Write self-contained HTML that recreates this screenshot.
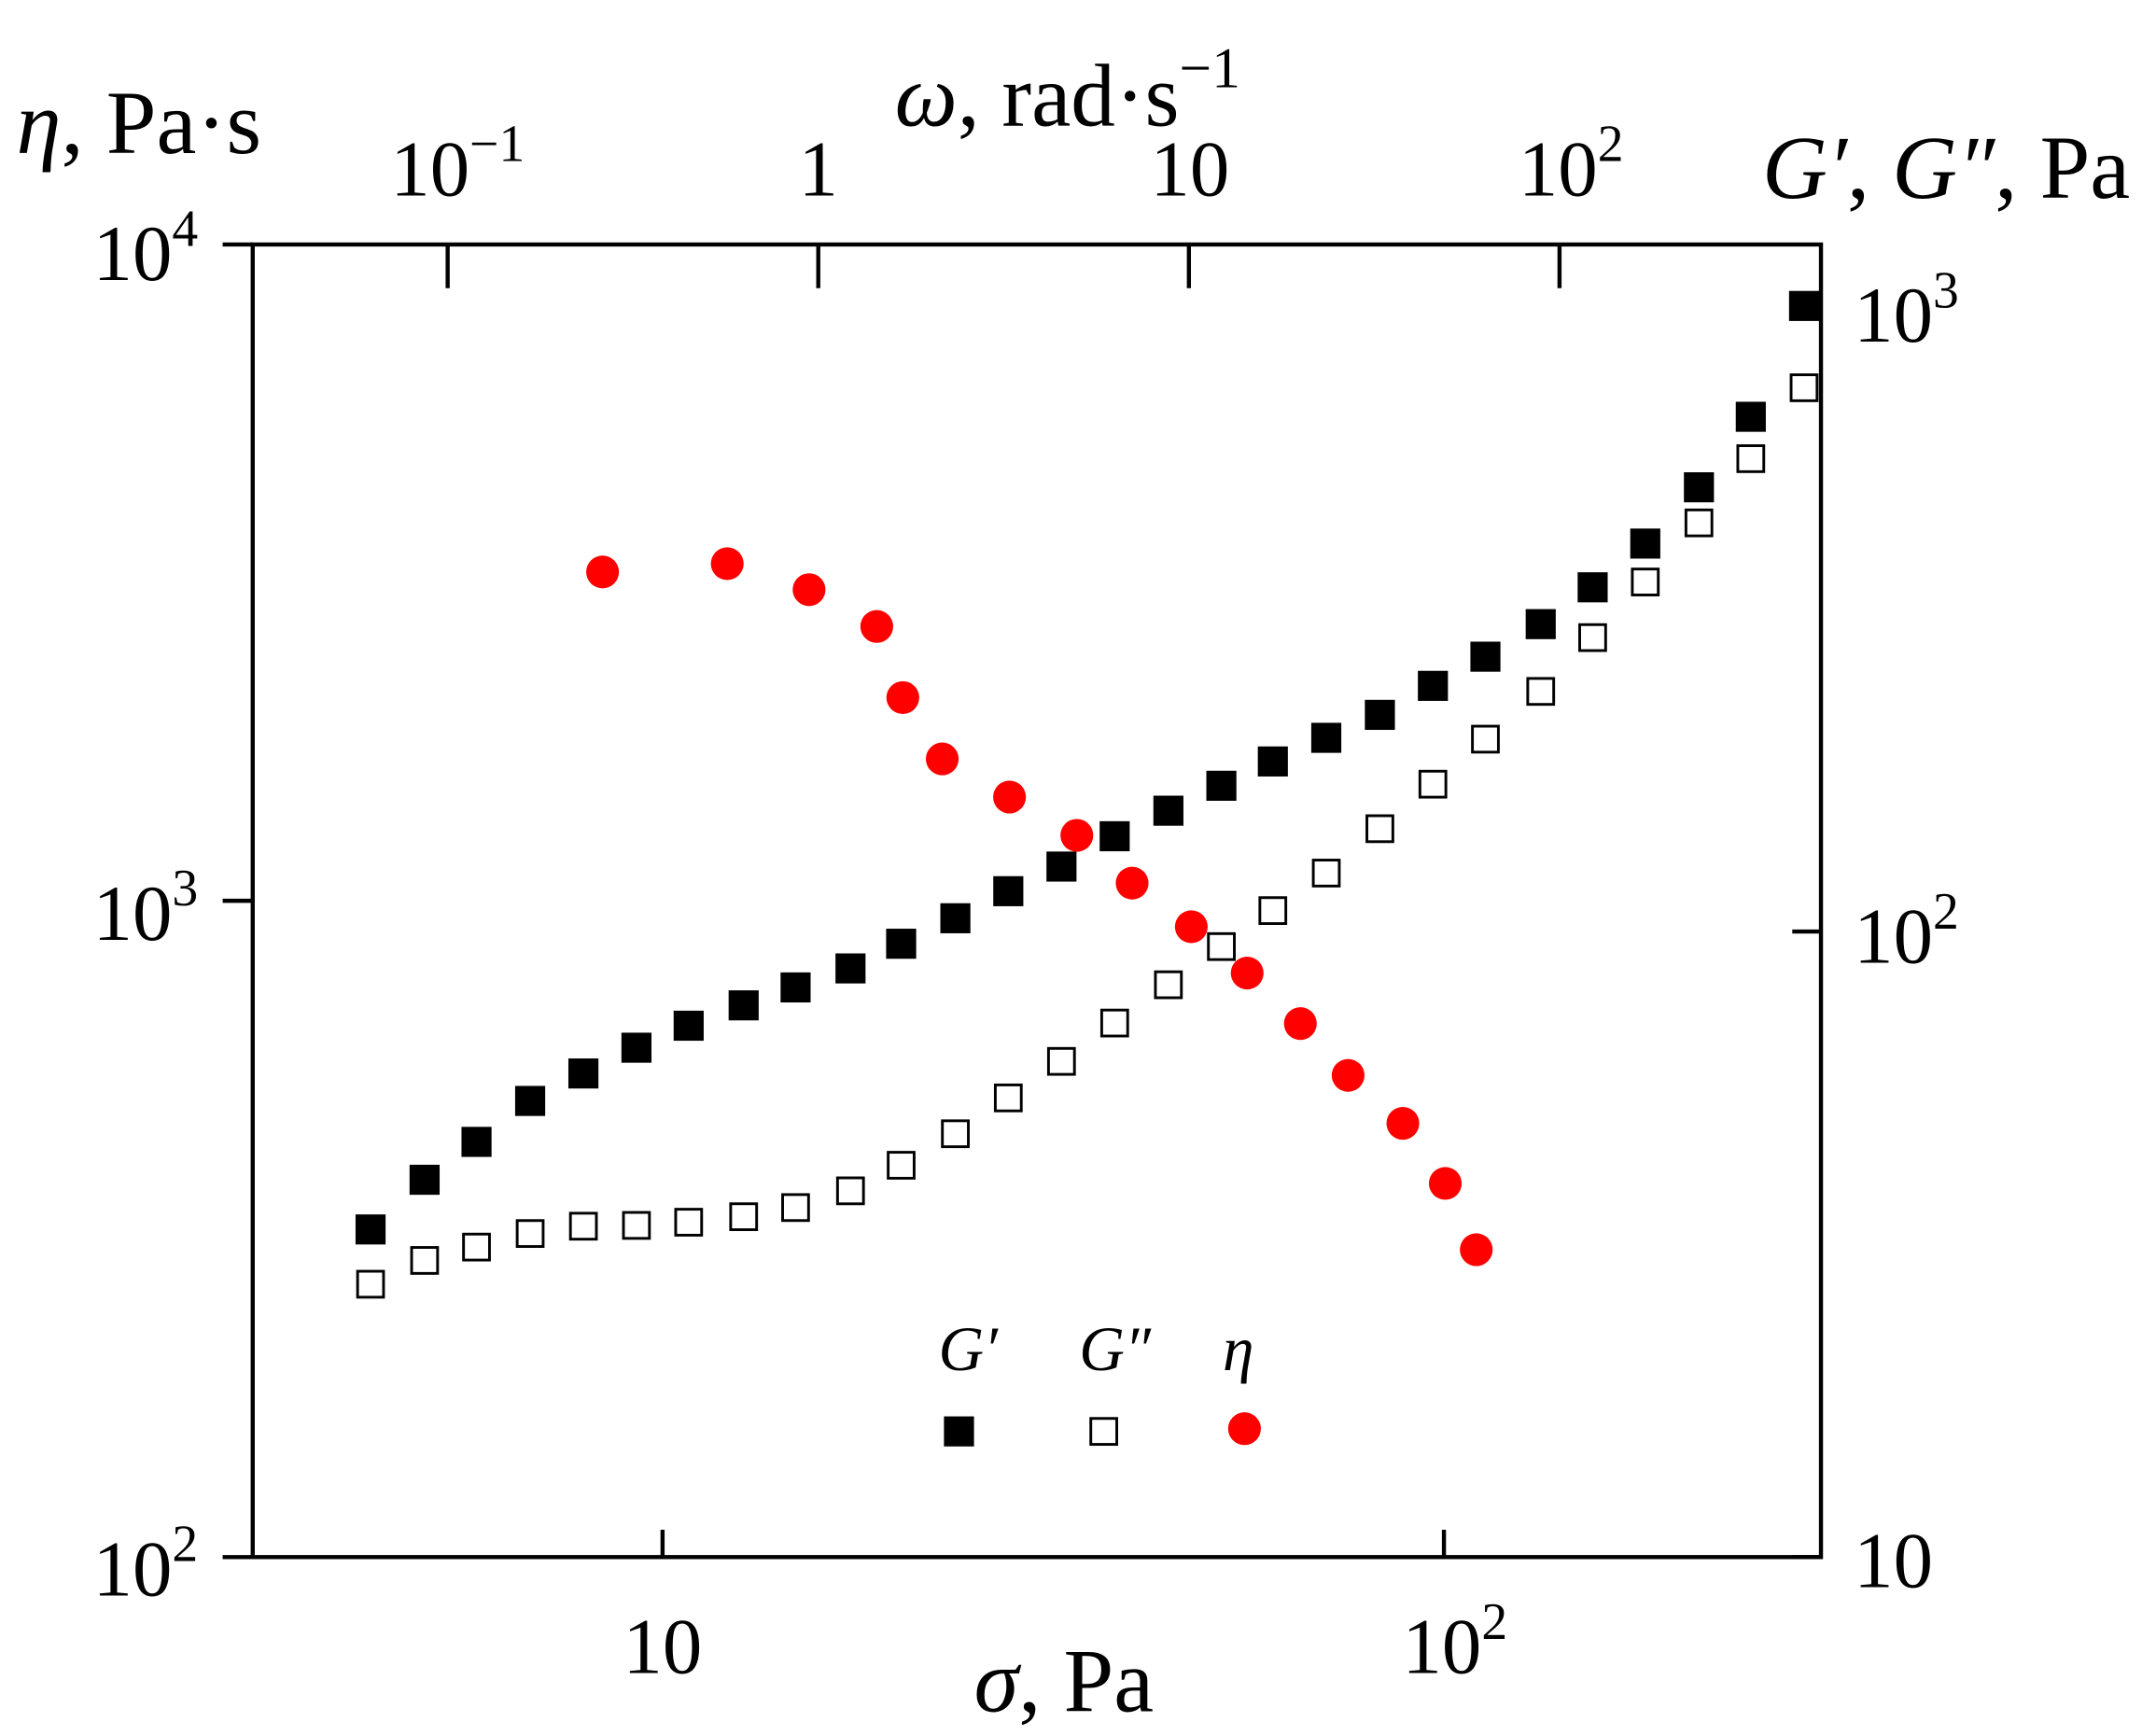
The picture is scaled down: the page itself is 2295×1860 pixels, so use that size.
<!DOCTYPE html>
<html><head><meta charset="utf-8"><style>
html,body{margin:0;padding:0;background:#fff;}
svg{display:block;font-family:"Liberation Serif",serif;}
</style></head><body>
<svg id="chart" width="2295" height="1860" viewBox="0 0 1568 1271" preserveAspectRatio="none" xmlns="http://www.w3.org/2000/svg">
<g id="axes" stroke="#000" fill="none">
<rect x="185" y="179" width="1148" height="961" stroke-width="3"/>
</g>
<g id="labels" font-size="58" fill="#000"></g>
<g id="marks"></g>
<g id="legend"></g>
</svg>
<script>
const sigmaG = [4.23,4.96,5.78,6.77,7.92,9.26,10.8,12.7,14.8,17.4,20.2,23.7,27.7,32.4,37.9,44.4,51.9,60.4,70.7,82.8,96.8,113,133,155,181,212,247,289];
const gPrime = [33.4,40.1,46.1,53.6,59.3,65.2,70.7,76.2,81.4,87.3,95.6,105,116,127,142,156,171,187,204,222,247,275,310,355,417,513,665,1000];
const gDouble = [27.3,29.8,31.3,32.9,33.8,33.9,34.3,35.0,36.2,38.5,42.3,47.5,54.2,62.0,71.4,82.2,94.6,108,124,146,172,203,242,295,362,450,570,740];
const sigmaEta = [8.38,12.1,15.4,18.8,20.3,22.8,27.8,33.9,39.9,47.5,56.0,65.5,75.4,88.6,100.4,110];
const eta = [3170,3263,2979,2618,2040,1645,1439,1258,1064,913,776,650,542,458,371,294];

const L=185,R=1333,T=179,B=1140;
function xS(s){return 485+(Math.log10(s)-1)*572;}
function xW(w){return 599+Math.log10(w)*271.3;}
function yEta(v){return T+(4-Math.log10(v))*480.5;}
function yG(v){return B-(Math.log10(v)-1)*458;}
const NS="http://www.w3.org/2000/svg";
function mk(tag,attrs,parent){const e=document.createElementNS(NS,tag);for(const k in attrs)e.setAttribute(k,attrs[k]);parent.appendChild(e);return e;}
const axes=document.getElementById('axes'),labels=document.getElementById('labels'),marks=document.getElementById('marks'),legend=document.getElementById('legend');

[1e4,1e3,1e2].forEach(v=>{const t=mk('line',{x1:163,x2:L,y1:yEta(v),y2:yEta(v),'stroke-width':3},axes);

});
[1e3,1e2,10].forEach(v=>{const t=mk('line',{x1:1312,x2:R,y1:yG(v),y2:yG(v),'stroke-width':3},axes);

});
[0.1,1,10,100].forEach(v=>{const t=mk('line',{x1:xW(v),x2:xW(v),y1:T,y2:T+32,'stroke-width':3},axes);

});
[10,100].forEach(v=>{const t=mk('line',{x1:xS(v),x2:xS(v),y1:B,y2:B-20,'stroke-width':3},axes);

});

function lab(html,x,y,anchor,name,size){const t=mk('text',{x:x,y:y,'text-anchor':anchor||'start'},labels);
if(size)t.setAttribute('font-size',size);
t.innerHTML=html;

return t;}
const sup=(e)=>'<tspan dy="-25" font-size="38">'+e+'</tspan>';
lab('10'+sup('4'),68,205,'start','left-tick-label-1e4');
lab('10'+sup('3'),68,688,'start','left-tick-label-1e3');
lab('10'+sup('2'),68,1168,'start','left-tick-label-1e2');
lab('10'+sup('3'),1357,250,'start','right-tick-label-1e3');
lab('10'+sup('2'),1357,705,'start','right-tick-label-1e2');
lab('10',1357,1162,'start','right-tick-label-10');
lab('10',485,1225,'middle','bottom-tick-label-10');
lab('10'+sup('2'),1065,1225,'middle','bottom-tick-label-1e2');
lab('10'+sup('−1'),335,143,'middle','top-tick-label-0.1');
lab('1',599,143,'middle','top-tick-label-1');
lab('10',871,143,'middle','top-tick-label-10');
lab('10'+sup('2'),1150,143,'middle','top-tick-label-1e2');
lab('<tspan font-style="italic">ω</tspan>, rad·s<tspan dy="-28" font-size="42">−1</tspan>',655,92,'start','top-axis-title',65);
lab('<tspan font-style="italic">η</tspan>, Pa·s',12,112,'start','left-axis-title',66);
lab('<tspan font-style="italic">G′</tspan>, <tspan font-style="italic">G″</tspan>, Pa',1290,145,'start','right-axis-title',66);
lab('<tspan font-style="italic">σ</tspan>, Pa',713,1253,'start','bottom-axis-title',66);

sigmaG.forEach((s,i)=>{const r=mk('rect',{x:xS(s)-11,y:yG(gPrime[i])-11,width:22,height:22,fill:'#000'},marks);

});
sigmaG.forEach((s,i)=>{const r=mk('rect',{x:xS(s)-9.5,y:yG(gDouble[i])-9.5,width:19,height:19,fill:'#fff',stroke:'#000','stroke-width':2},marks);

});
sigmaEta.forEach((s,i)=>{const c=mk('circle',{cx:xS(s),cy:yEta(eta[i]),r:12,fill:'#ff0000'},marks);

});

const g1=mk('rect',{x:691,y:1037,width:22,height:22,fill:'#000'},legend);


const g2=mk('rect',{x:798.5,y:1038.5,width:19,height:19,fill:'#fff',stroke:'#000','stroke-width':2},legend);


const g3=mk('circle',{cx:911,cy:1046,r:12,fill:'#ff0000'},legend);


lab('<tspan font-style="italic">G′</tspan>',687,1003,'start','legend-g-prime-label',46);
lab('<tspan font-style="italic">G″</tspan>',790,1003,'start','legend-g-double-prime-label',46);
lab('<tspan font-style="italic">η</tspan>',895,1003,'start','legend-eta-label',46);
</script>
</body></html>
